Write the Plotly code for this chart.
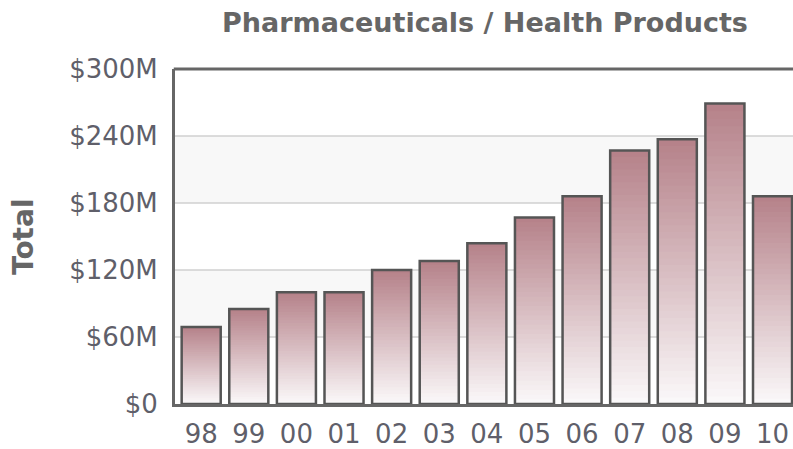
import plotly.graph_objects as go

years = ["98", "99", "00", "01", "02", "03", "04", "05", "06", "07", "08", "09", "10"]
totals = [69, 85, 100, 100, 120, 128, 144, 167, 186, 227, 237, 269, 186]  # $M
tick_vals = [0, 60, 120, 180, 240, 300]
tick_text = ["$0", "$60M", "$120M", "$180M", "$240M", "$300M"]

W, H = 793, 449
ML, MR, MT, MB = 175, 0, 69, 45

top_rgb = (181, 129, 137)
bot_rgb = (251, 249, 250)
N = 40
BW = 0.82
xs = list(range(len(years)))

fig = go.Figure()
for k in range(N):
    t = (k + 0.5) / N
    c = tuple(round(bot_rgb[i] + (top_rgb[i] - bot_rgb[i]) * t) for i in range(3))
    bases = [v * k / N for v in totals]
    heights = [v / N + (1.5 if k < N - 1 else 0) for v in totals]
    fig.add_trace(go.Bar(x=xs, y=heights, base=bases, width=BW,
                         marker=dict(color="rgb(%d,%d,%d)" % c, line=dict(width=0)),
                         hoverinfo="skip", showlegend=False))
fig.add_trace(go.Bar(x=xs, y=totals, width=BW,
                     marker=dict(color="rgba(0,0,0,0)", line=dict(color="#555555", width=2.5)),
                     showlegend=False))

shapes = []
for lo, hi in [(60, 120), (180, 240)]:
    shapes.append(dict(type="rect", xref="paper", yref="y", x0=0, x1=1, y0=lo, y1=hi,
                       fillcolor="#f8f8f8", line=dict(width=0), layer="below"))
for g in tick_vals[1:-1]:
    shapes.append(dict(type="line", xref="paper", yref="y", x0=0, x1=1, y0=g, y1=g,
                       line=dict(color="#d0d0d0", width=1.5), layer="below"))
shapes.append(dict(type="line", xref="paper", yref="paper", x0=-0.002, x1=1, y0=1, y1=1,
                   line=dict(color="#666666", width=3)))

fig.update_layout(
    width=W, height=H,
    margin=dict(l=ML, r=MR, t=MT, b=MB, autoexpand=False),
    paper_bgcolor="white", plot_bgcolor="white",
    barmode="overlay",
    shapes=shapes,
    font=dict(family="DejaVu Sans", color="#666666"),
    title=dict(text="<b>Pharmaceuticals / Health Products</b>", x=485 / W, xanchor="center",
               y=1 - 23 / H, yanchor="middle", font=dict(size=27, color="#666666")),
    xaxis=dict(range=[-0.55, 12.43], tickmode="array", tickvals=xs, ticktext=years,
               showline=True, linecolor="#666666", linewidth=3, showgrid=False,
               ticks="", tickfont=dict(size=26, color="#5f5f6a"), ticklabelstandoff=5,
               zeroline=False, fixedrange=True, automargin=False),
    yaxis=dict(range=[0, 300], tickmode="array", tickvals=tick_vals, ticktext=tick_text,
               showline=True, linecolor="#666666", linewidth=3, showgrid=False,
               ticks="", tickfont=dict(size=26, color="#5f5f6a"), ticklabelstandoff=9,
               zeroline=False, fixedrange=True, automargin=False),
    annotations=[dict(text="<b>Total</b>", xref="paper", yref="paper",
                      x=(23 - ML) / (W - ML - MR), y=(404 - 237) / (404 - 69), xanchor="center",
                      yanchor="middle", textangle=-90, showarrow=False,
                      font=dict(size=28, color="#666666"))],
)

fig.write_html("out.html", config={"displayModeBar": False},
               post_script="document.body.style.margin='0';document.body.style.overflow='hidden';")
